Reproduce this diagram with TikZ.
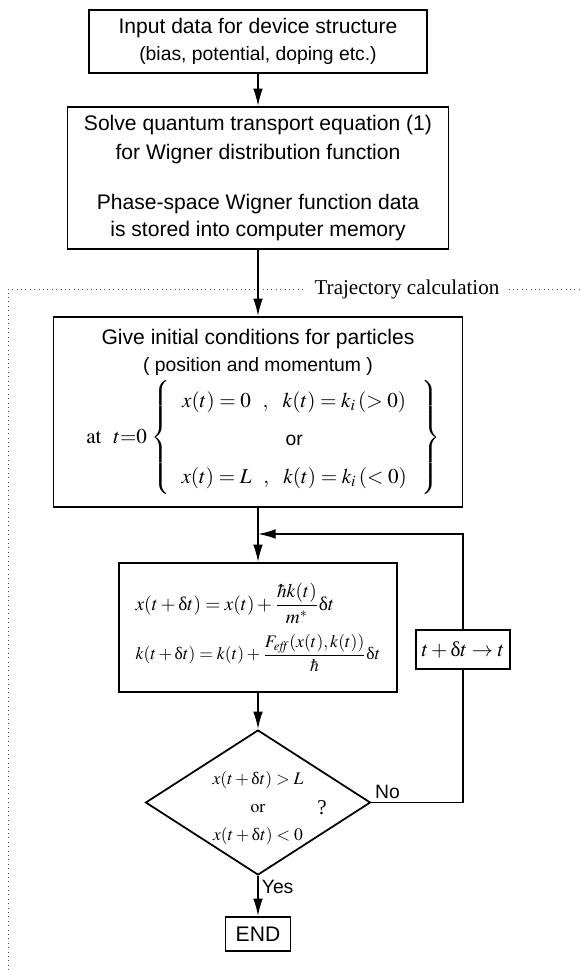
\documentclass[tikz,border=0pt]{standalone}
\usepackage{amsmath}
\usepackage{mathptmx}
\usepackage[no-math]{fontspec}
\setmainfont{Liberation Sans}
\newfontfamily\serifcaption{Liberation Serif}
\usetikzlibrary{shapes,arrows.meta,positioning,calc}
% upright delta as printed in the equations
\newcommand{\dlt}{\mathord{\text{\serifcaption δ}}}

\begin{document}
\begin{tikzpicture}[x=0.02cm, y=-0.02cm]
    % Define styles
    \tikzset{
        block/.style={draw, rectangle, line width=1pt, align=center, inner sep=0pt,
            font=\fontsize{12}{14.5}\selectfont},
        decision/.style={draw, diamond, line width=1pt, aspect=1.55, inner sep=0pt,
            minimum width=4.5cm, minimum height=2.9cm},
        arrow/.style={-{Latex[length=10pt,width=5.5pt]}, line width=1pt},
        line/.style={line width=1pt},
        frame/.style={dotted, line width=0.5pt, black!70}
    }
    \useasboundingbox (0,0) rectangle (579,970);

    % Place nodes
    \node[block, minimum width=6.76cm, minimum height=1.26cm] (input) at (258,41.5)
        {Input data for device structure\\[1pt]
         {\fontsize{11}{13}\selectfont (bias, potential, doping etc.)}};
    \node[block, minimum width=7.62cm, minimum height=2.84cm] (solve) at (258,178)
        {Solve quantum transport equation (1)\\[2pt]
         for Wigner distribution function\\[14pt]
         Phase-space Wigner function data\\[1pt]
         is stored into computer memory};
    \node[block, minimum width=8.18cm, minimum height=3.8cm] (initial) at (258,412)
        {Give initial conditions for particles\\[1pt]
         {\fontsize{11}{13}\selectfont ( position and momentum )}\\[2pt]
         \hspace*{6pt}$\mathrm{at}\ \ t{=}0\,\left\{\,\renewcommand{\arraystretch}{1.5}
          \begin{array}{c}
          x(t)=0\ \ ,\ \ k(t)=k_i\,(>0)\\
          \text{\fontsize{11}{13}\selectfont or}\\
          x(t)=L\ \ ,\ \ k(t)=k_i\,(<0)
          \end{array}\ \right\}$};
    \node[block, minimum width=5.56cm, minimum height=2.58cm, align=left] (advance) at (258,627.5)
        {{\fontsize{11}{13}\selectfont
          $\displaystyle x(t+\dlt t)=x(t)+\frac{\hbar k(t)}{m^*}\dlt t$}\\[5pt]
         {\fontsize{10}{12}\selectfont
          $\displaystyle k(t+\dlt t)=k(t)+\frac{F_{\mathit{eff}}(x(t),k(t))}{\hbar}\dlt t$}};
    \node[block, minimum width=1.88cm, minimum height=0.78cm] (update) at (463,649.5)
        {$t+\dlt t\rightarrow t$};
    \node[decision] (check) at (258,802.5) {};
    \node[align=center, font=\fontsize{10}{16}\selectfont] (cond) at (258,808)
        {$x(t+\dlt t)>L$\\ $\mathrm{or}$\\ $x(t+\dlt t)<0$};
    \node[font=\fontsize{12}{14}\selectfont] (qmark) at (322,808) {\serifcaption ?};
    \node[block, minimum width=1.3cm, minimum height=0.68cm] (end) at (258,934) {END};
    \coordinate (merge) at (258,534);

    % Trajectory calculation frame
    \node[inner sep=5pt, font=\fontsize{12}{14}\selectfont\serifcaption] (traj) at (407,289)
        {Trajectory calculation};
    \draw[frame] (8,970) -- (8,289) -- (traj.west);
    \draw[frame] (traj.east) -- (579,289);

    % Draw arrows
    \draw[arrow] (input) -- (solve);
    \draw[arrow] (solve) -- (initial);
    \draw[line] (initial) -- (merge);
    \draw[arrow] (merge) -- (advance);
    \draw[arrow] (advance) -- (check);
    \draw[arrow] (check) -- (end);
    % No branch goes round through t -> t + dt and back up
    \draw[line] (check.east) -| (update.south);
    \draw[arrow] (update.north) |- (merge);

    % Branch labels
    \node[above right, inner sep=2pt, font=\fontsize{11}{13}\selectfont] (no) at (check.east) {No};
    \node[below right, inner sep=2pt, font=\fontsize{11}{13}\selectfont] (yes) at (check.south) {Yes};
\end{tikzpicture}
\end{document}
